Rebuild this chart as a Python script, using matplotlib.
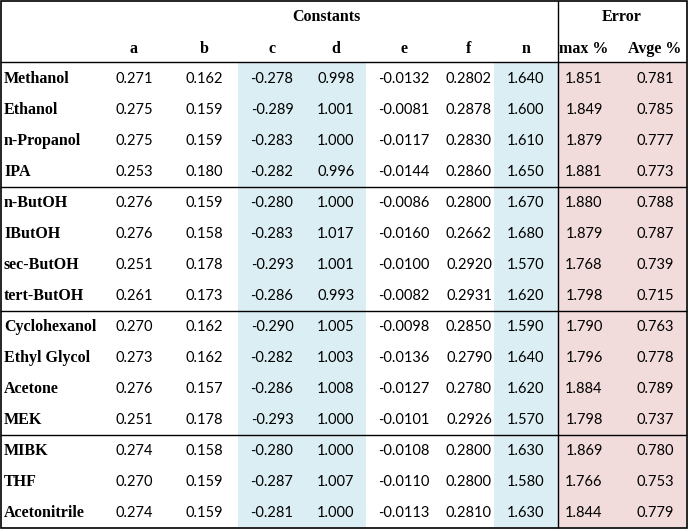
import matplotlib.pyplot as plt
from matplotlib.patches import Rectangle

# Table data
solvents = ['Methanol', 'Ethanol', 'n-Propanol', 'IPA', 'n-ButOH', 'IButOH', 'sec-ButOH',
            'tert-ButOH', 'Cyclohexanol', 'Ethyl Glycol', 'Acetone', 'MEK', 'MIBK', 'THF',
            'Acetonitrile']
col_names = ['a', 'b', 'c', 'd', 'e', 'f', 'n', 'max %', 'Avge %']
a = [0.271, 0.275, 0.275, 0.253, 0.276, 0.276, 0.251, 0.261, 0.270, 0.273, 0.276, 0.251, 0.274, 0.270, 0.274]
b = [0.162, 0.159, 0.159, 0.180, 0.159, 0.158, 0.178, 0.173, 0.162, 0.162, 0.157, 0.178, 0.158, 0.159, 0.159]
c = [-0.278, -0.289, -0.283, -0.282, -0.280, -0.283, -0.293, -0.286, -0.290, -0.282, -0.286, -0.293, -0.280, -0.287, -0.281]
d = [0.998, 1.001, 1.000, 0.996, 1.000, 1.017, 1.001, 0.993, 1.005, 1.003, 1.008, 1.000, 1.000, 1.007, 1.000]
e = [-0.0132, -0.0081, -0.0117, -0.0144, -0.0086, -0.0160, -0.0100, -0.0082, -0.0098, -0.0136, -0.0127, -0.0101, -0.0108, -0.0110, -0.0113]
f = [0.2802, 0.2878, 0.2830, 0.2860, 0.2800, 0.2662, 0.2920, 0.2931, 0.2850, 0.2790, 0.2780, 0.2926, 0.2800, 0.2800, 0.2810]
n = [1.640, 1.600, 1.610, 1.650, 1.670, 1.680, 1.570, 1.620, 1.590, 1.640, 1.620, 1.570, 1.630, 1.580, 1.630]
max_err = [1.851, 1.849, 1.879, 1.881, 1.880, 1.879, 1.768, 1.798, 1.790, 1.796, 1.884, 1.798, 1.869, 1.766, 1.844]
avg_err = [0.781, 0.785, 0.777, 0.773, 0.788, 0.787, 0.739, 0.715, 0.763, 0.778, 0.789, 0.737, 0.780, 0.753, 0.779]
columns = [a, b, c, d, e, f, n, max_err, avg_err]
decimals = [3, 3, 3, 3, 4, 4, 3, 3, 3]

# Layout in pixels
W, H = 688, 529
col_x = [134, 204, 272, 336, 404, 469, 526, 584, 655]
row_y0, row_dy = 78, 31
blue = '#DAEEF3'
pink = '#F2DCDB'
serif = 'Liberation Serif'
sans = 'Lato'

fig = plt.figure(figsize=(W / 100, H / 100), dpi=100)
ax = fig.add_axes([0, 0, 1, 1])
ax.set_xlim(0, W)
ax.set_ylim(H, 0)
ax.axis('off')

# shaded columns
top, bottom = 62, 527
ax.add_patch(Rectangle((238, top), 128, bottom - top, color=blue, lw=0))
ax.add_patch(Rectangle((494, top), 64, bottom - top, color=blue, lw=0))
ax.add_patch(Rectangle((558, top), 128, bottom - top, color=pink, lw=0))

# headers
hdr = dict(va='baseline', fontfamily=serif, fontweight='bold', fontsize=11.5)
ax.text(326, 21, 'Constants', ha='center', **hdr)
ax.text(622, 21, 'Error', ha='center', **hdr)
for x, name in zip(col_x, col_names):
    ax.text(x, 53, name, ha='center', **hdr)

# body
for i, solv in enumerate(solvents):
    y = row_y0 + i * row_dy
    ax.text(4, y + 5, solv, ha='left', **hdr)
    for x, vals, dec in zip(col_x, columns, decimals):
        ax.text(x, y + 5, f'{vals[i]:.{dec}f}', ha='center', va='baseline',
                fontfamily=sans, fontsize=10.5)

# rules
for y in [62, 186.5, 311, 435]:
    ax.plot([1, 686], [y, y], color='black', lw=1)
ax.plot([558, 558], [1, 527], color='black', lw=1)
ax.add_patch(Rectangle((1, 1), 685.5, 526.5, fill=False, ec='black', lw=1.2))

fig.savefig('out.png', dpi=100)
